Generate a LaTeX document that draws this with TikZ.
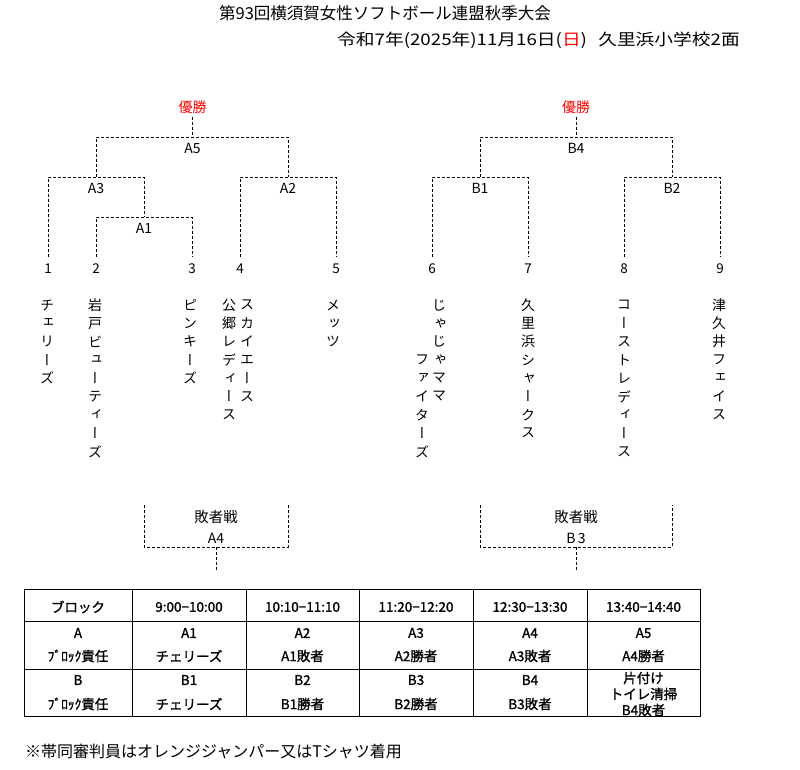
\documentclass[tikz,border=0pt]{standalone}
\usepackage{fontspec}
\setmainfont{Noto Sans CJK JP}[AutoFakeBold=1.3]
\newfontfamily\vfont[RawFeature=+vert]{Noto Sans CJK JP}
\definecolor{winred}{RGB}{255,0,0}
\tikzset{
  br/.style={draw=black,line width=0.8pt,dash pattern=on 3pt off 2pt},
  tbl/.style={draw=black,line width=0.9pt},
  lbl/.style={inner sep=0pt,font=\fontsize{14}{14}\selectfont},
  win/.style={lbl,text=winred},
  num/.style={inner sep=0pt,font=\fontsize{13.5}{13.5}\selectfont},
  vch/.style={inner sep=0pt,font=\vfont\fontsize{14}{14}\selectfont},
  cell/.style={inner sep=0pt,font=\bfseries\fontsize{13.5}{13.5}\selectfont},
  hcell/.style={inner sep=0pt,font=\bfseries\fontsize{13.5}{13.5}\selectfont},
}
\newcommand\vcolumn[4]{%
  \foreach \c [count=\i from 0] in {#4} \node[vch] (#1-\i) at (#2,{#3+18.3*\i}) {\c};}
\begin{document}
\begin{tikzpicture}[x=1pt,y=-1pt]
\useasboundingbox[fill=white] (0,0) rectangle (800,770);
% titles
\node[inner sep=0pt,font=\fontsize{16.5}{16.5}\selectfont] (title) at (385,13) {第93回横須賀女性ソフトボール連盟秋季大会};
\node[inner sep=0pt,anchor=west,font=\fontsize{16}{16}\selectfont] (date) at (337,40) {\scalebox{1.17}[1]{令和7年(2025年)11月16日(\textcolor{winred}{日})\hspace{0.6em}久里浜小学校2面}};
% winners
\node[win] (wa) at (192.5,107) {優勝};
\node[win] (wb) at (576,107) {優勝};
% bracket labels
\node[lbl] (A5) at (192.5,148) {A5};
\node[lbl] (A3) at (96,188) {A3};
\node[lbl] (A1) at (144,228) {A1};
\node[lbl] (A2) at (288,188) {A2};
\node[lbl] (B4) at (576,148) {B4};
\node[lbl] (B1) at (480,188) {B1};
\node[lbl] (B2) at (672,188) {B2};
% numbers
\foreach \n/\x in {1/48,2/96,3/192,4/240,5/336,6/432,7/528,8/624,9/720}
  \node[num] (n\n) at (\x,269) {\n};
% coordinates of bracket joints
\coordinate (wat) at (192.5,117);
\coordinate (wab) at (192.5,137);
\coordinate (a5l) at (96,137);
\coordinate (a5r) at (288,137);
\coordinate (a3l) at (48,177);
\coordinate (a3m) at (96,177);
\coordinate (a3r) at (144,177);
\coordinate (a1l) at (96,217);
\coordinate (a1m) at (144,217);
\coordinate (a1r) at (192,217);
\coordinate (a2l) at (240,177);
\coordinate (a2m) at (288,177);
\coordinate (a2r) at (336,177);
\coordinate (e1) at (48,257);
\coordinate (e2) at (96,257);
\coordinate (e3) at (192,257);
\coordinate (e4) at (240,257);
\coordinate (e5) at (336,257);
\coordinate (wbt) at (576,117);
\coordinate (wbb) at (576,137);
\coordinate (b4l) at (480,137);
\coordinate (b4r) at (672,137);
\coordinate (b1l) at (432,177);
\coordinate (b1m) at (480,177);
\coordinate (b1r) at (528,177);
\coordinate (b2l) at (624,177);
\coordinate (b2m) at (672,177);
\coordinate (b2r) at (720,177);
\coordinate (e6) at (432,257);
\coordinate (e7) at (528,257);
\coordinate (e8) at (624,257);
\coordinate (e9) at (720,257);
% left bracket
\draw[br] (wat) -- (wab);
\draw[br] (a3m) -- (a5l) -- (a5r) -- (a2m);
\draw[br] (e1) -- (a3l) -- (a3r) -- (a1m);
\draw[br] (e2) -- (a1l) -- (a1r) -- (e3);
\draw[br] (e4) -- (a2l) -- (a2r) -- (e5);
% right bracket
\draw[br] (wbt) -- (wbb);
\draw[br] (b1m) -- (b4l) -- (b4r) -- (b2m);
\draw[br] (e6) -- (b1l) -- (b1r) -- (e7);
\draw[br] (e8) -- (b2l) -- (b2r) -- (e9);
% team names (vertical)
\vcolumn{t1}{47}{305}{チ,ェ,リ,ー,ズ}
\vcolumn{t2}{95}{305}{岩,戸,ビ,ュ,ー,テ,ィ,ー,ズ}
\vcolumn{t3}{190}{305}{ピ,ン,キ,ー,ズ}
\vcolumn{t4a}{247}{305}{ス,カ,イ,エ,ー,ス}
\vcolumn{t4b}{229}{305}{公,郷,レ,デ,ィ,ー,ス}
\vcolumn{t5}{333}{305}{メ,ッ,ツ}
\vcolumn{t6a}{439}{305}{じ,ゃ,じ,ゃ,マ,マ}
\vcolumn{t6b}{422}{359.9}{フ,ァ,イ,タ,ー,ズ}
\vcolumn{t7}{528}{305}{久,里,浜,シ,ャ,ー,ク,ス}
\vcolumn{t8}{624}{305}{コ,ー,ス,ト,レ,デ,ィ,ー,ス}
\vcolumn{t9}{719}{305}{津,久,井,フ,ェ,イ,ス}
% loser brackets
\node[lbl,font=\fontsize{14.5}{14.5}\selectfont] (la) at (216,517) {敗者戦};
\node[lbl] (A4) at (216,538) {A4};
\node[lbl,font=\fontsize{14.5}{14.5}\selectfont] (lb) at (576,517) {敗者戦};
\node[lbl] (B3) at (576,538) {B\,3};
\coordinate (la1) at (144,505);
\coordinate (la2) at (144,547);
\coordinate (la3) at (288,547);
\coordinate (la4) at (288,505);
\coordinate (lam) at (216,547);
\coordinate (lat) at (216,570);
\coordinate (lb1) at (480,505);
\coordinate (lb2) at (480,547);
\coordinate (lb3) at (672,547);
\coordinate (lb4) at (672,505);
\coordinate (lbm) at (576,547);
\coordinate (lbt) at (576,570);
\draw[br] (la1) -- (la2) -- (la3) -- (la4);
\draw[br] (lam) -- (lat);
\draw[br] (lb1) -- (lb2) -- (lb3) -- (lb4);
\draw[br] (lbm) -- (lbt);
% table
\draw[tbl] (24,589) rectangle (700,716);
\foreach \yy in {621,669} \draw[tbl] (24,\yy) -- (700,\yy);
\foreach \xx in {132,246,359,473,587} \draw[tbl] (\xx,589) -- (\xx,716);
\foreach \t [count=\k] in {ブロック,9:00−10:00,10:10−11:10,11:20−12:20,12:30−13:30,13:40−14:40}{
  \pgfmathsetmacro\cx{{78,189,302.5,416,530,643.5}[\k-1]}
  \node[hcell] (h\k) at (\cx,607) {\t};}
\foreach \p/\q [count=\k] in {A/ﾌﾞﾛｯｸ責任,A1/チェリーズ,A2/A1敗者,A3/A2勝者,A4/A3敗者,A5/A4勝者}{
  \pgfmathsetmacro\cx{{78,189,302.5,416,530,643.5}[\k-1]}
  \node[cell] (ra\k) at (\cx,633) {\p};
  \node[cell] (rb\k) at (\cx,656) {\q};}
\foreach \p/\q [count=\k] in {B/ﾌﾞﾛｯｸ責任,B1/チェリーズ,B2/B1勝者,B3/B2勝者,B4/B3敗者}{
  \pgfmathsetmacro\cx{{78,189,302.5,416,530}[\k-1]}
  \node[cell] (sa\k) at (\cx,680) {\p};
  \node[cell] (sb\k) at (\cx,704) {\q};}
\node[cell] (s6a) at (643.5,678) {片付け};
\node[cell] (s6b) at (643.5,694) {トイレ清掃};
\node[cell] (s6c) at (643.5,710) {B4敗者};
% footer
\node[inner sep=0pt,anchor=west,font=\fontsize{16}{16}\selectfont] (foot) at (25,751) {※帯同審判員はオレンジジャンパー又はTシャツ着用};
\end{tikzpicture}
\end{document}
